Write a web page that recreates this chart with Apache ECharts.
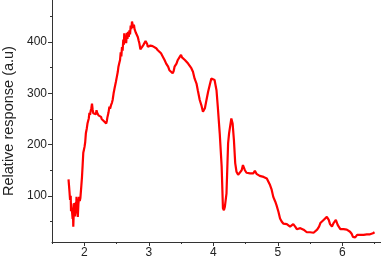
<!DOCTYPE html>
<html><head><meta charset="utf-8">
<script src="https://cdn.jsdelivr.net/npm/echarts@6/dist/echarts.min.js"></script>
<style>html,body{margin:0;padding:0;background:#fff}#c{width:381px;height:262px}</style>
</head><body><div id="c"></div>
<script>
var xLabels = [2, 3, 4, 5, 6];
var xMinorTicks = [1.5, 2.5, 3.5, 4.5, 5.5, 6.5];
var yLabels = [100, 200, 300, 400];
var yMinorTicks = [50, 150, 250, 350, 450];
var yTitle = 'Relative response (a.u)';

var energy = [
1.756,1.765,1.77,1.78,1.79,1.795,1.80,1.81,1.82,1.825,1.83,1.84,1.845,1.855,1.86,1.87,1.875,1.88,1.89,1.90,
1.91,1.92,1.93,1.94,1.955,1.965,1.975,1.985,1.995,2.005,2.015,2.025,2.04,2.05,2.06,2.07,2.08,2.09,2.10,2.11,
2.12,2.13,2.14,2.15,2.16,2.17,2.18,2.19,2.20,2.21,2.22,2.23,2.245,2.26,2.27,2.285,2.30,2.31,2.325,2.34,
2.35,2.36,2.375,2.39,2.40,2.415,2.43,2.44,2.455,2.47,2.48,2.49,2.505,2.52,2.53,2.545,2.555,2.565,2.575,2.585,
2.595,2.605,2.615,2.62,2.63,2.64,2.65,2.66,2.67,2.68,2.69,2.70,2.71,2.72,2.73,2.74,2.75,2.76,2.77,2.78,
2.79,2.80,2.815,2.83,2.845,2.855,2.87,2.88,2.895,2.91,2.92,2.935,2.95,2.96,2.975,2.985,3.00,3.01,3.025,3.04,
3.06,3.09,3.115,3.14,3.17,3.19,3.22,3.245,3.27,3.30,3.32,3.35,3.37,3.385,3.40,3.43,3.45,3.48,3.50,3.515,
3.53,3.56,3.58,3.61,3.63,3.66,3.685,3.71,3.74,3.76,3.79,3.815,3.84,3.87,3.89,3.92,3.945,3.97,3.995,4.02,
4.05,4.07,4.10,4.13,4.15,4.165,4.18,4.205,4.23,4.245,4.26,4.28,4.30,4.32,4.34,4.36,4.385,4.41,4.44,4.46,
4.49,4.515,4.54,4.57,4.60,4.62,4.645,4.67,4.70,4.72,4.75,4.78,4.80,4.83,4.85,4.88,4.905,4.93,4.96,4.98,
5.01,5.035,5.06,5.085,5.11,5.14,5.165,5.19,5.215,5.24,5.27,5.295,5.32,5.35,5.375,5.40,5.45,5.50,5.555,5.61,
5.64,5.66,5.69,5.71,5.74,5.76,5.79,5.81,5.84,5.865,5.90,5.93,5.97,6.02,6.07,6.12,6.145,6.165,6.20,6.23,
6.28,6.33,6.38,6.43,6.475,6.50];
var response = [
132,118,110,92,100,70,85,82,55,68,40,75,86,60,67,88,78,98,72,59,
85,98,90,96,120,137,160,184,190,196,205,222,232,241,246,251,262,258,266,271,
280,268,261,258,262,264,259,267,262,261,257,254,258,254,250,251,247,245,243,241,
246,254,262,274,270,277,282,287,300,310,313,322,332,342,352,360,365,380,372,390,
383,405,395,417,400,412,398,418,406,420,410,423,415,432,425,440,443,428,434,425,
428,418,415,410,402,397,386,384,390,391,395,397,402,404,396,391,388,391,393,394,
392,391,388,384,383,378,371,365,358,352,345,342,339,343,352,358,365,371,375,370,
368,365,362,358,355,349,342,329,319,306,287,277,264,271,284,303,316,329,332,326,
306,274,222,157,76,72,79,105,203,222,219,251,241,209,164,147,141,144,150,160,
150,145,146,144,145,144,149,143,140,139,138,137,136,134,131,121,112,98,89,82,
69,56,50,46,43,45,43,40,43,45,40,35,36,37,37,34,29,29,28,34,
40,47,50,53,56,59,53,45,40,47,53,43,35,35,34,30,26,20,19,24,
24,24,25,25,27,29];

var data = energy.map(function (e, i) { return [e, response[i]]; });
var font = 'Liberation Sans, Arial, sans-serif';
var chart = echarts.init(document.getElementById('c'));
chart.setOption({
  animation: false,
  backgroundColor: '#fff',
  grid: { left: 52, right: 0, top: 0, bottom: 20, containLabel: false, outerBoundsMode: 'none' },
  xAxis: [{
    type: 'value', min: 1.5, max: 6.6, position: 'bottom',
    axisLine: { show: true, onZero: false, lineStyle: { color: '#333', width: 1 } },
    axisTick: { show: true, length: 4, inside: false, customValues: xLabels, lineStyle: { color: '#333' } },
    axisLabel: { show: true, customValues: xLabels, color: '#222', fontSize: 12, fontFamily: font, margin: 5 },
    splitLine: { show: false }
  }, {
    type: 'value', min: 1.5, max: 6.6, position: 'bottom',
    axisLine: { show: false, onZero: false },
    axisTick: { show: true, length: 2, customValues: xMinorTicks, lineStyle: { color: '#333' } },
    axisLabel: { show: false },
    splitLine: { show: false }
  }],
  yAxis: [{
    type: 'value', min: 10, max: 482, position: 'left',
    name: yTitle, nameLocation: 'middle', nameGap: 36, nameRotate: 90,
    nameTextStyle: { color: '#222', fontSize: 14.5, fontFamily: font },
    axisLine: { show: true, onZero: false, lineStyle: { color: '#333', width: 1 } },
    axisTick: { show: true, length: 4, customValues: yLabels, lineStyle: { color: '#333' } },
    axisLabel: { show: true, customValues: yLabels, color: '#222', fontSize: 12, fontFamily: font, margin: 5 },
    splitLine: { show: false }
  }, {
    type: 'value', min: 10, max: 482, position: 'left',
    axisLine: { show: false, onZero: false },
    axisTick: { show: true, length: 2, customValues: yMinorTicks, lineStyle: { color: '#333' } },
    axisLabel: { show: false },
    splitLine: { show: false }
  }],
  series: [{
    type: 'line', data: data, xAxisIndex: 0, yAxisIndex: 0,
    showSymbol: false, symbol: 'none',
    lineStyle: { color: '#ff0000', width: 2.2 },
    z: 5
  }]
});
</script></body></html>
